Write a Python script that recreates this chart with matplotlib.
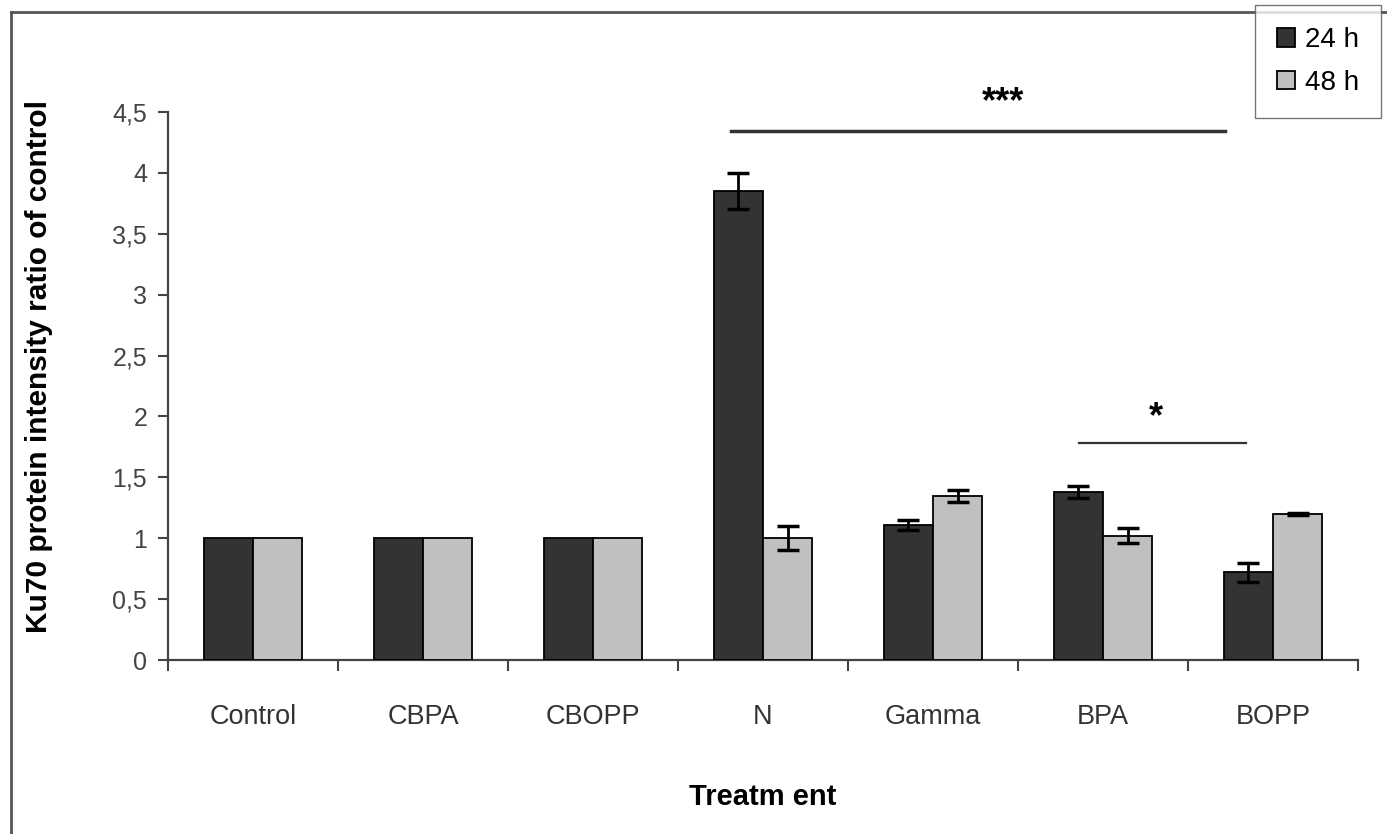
"""
Ku70 protein intensity - grouped bars (24 h / 48 h) with error bars
"""
import numpy as np
import matplotlib
matplotlib.use('Agg')
matplotlib.rcParams['font.family'] = ['Liberation Sans', 'DejaVu Sans']
import matplotlib.pyplot as plt
from matplotlib.lines import Line2D

# ---- data ----
treatments = ['Control', 'CBPA', 'CBOPP', 'N', 'Gamma', 'BPA', 'BOPP']
ratio_24h = [1.0, 1.0, 1.0, 3.85, 1.11, 1.38, 0.72]
err_24h = [0.0, 0.0, 0.0, 0.15, 0.04, 0.05, 0.08]
ratio_48h = [1.0, 1.0, 1.0, 1.0, 1.35, 1.02, 1.2]
err_48h = [0.0, 0.0, 0.0, 0.1, 0.05, 0.06, 0.01]
yticks = [0, 0.5, 1, 1.5, 2, 2.5, 3, 3.5, 4, 4.5]
ytick_labels = ['0', '0,5', '1', '1,5', '2', '2,5', '3', '3,5', '4', '4,5']

# significance bars: (x_start, x_end, y, label, label_x, label_y)
sig_bars = [
    (2.81, 5.72, 4.34, '***', 4.41, 4.58),
    (4.86, 5.84, 1.78, '*', 5.31, 1.99),
]

W, H = 1387, 834
fig = plt.figure(figsize=(W / 100, H / 100), dpi=100)
ax = fig.add_axes([168 / W, 1 - 660 / H, (1358 - 168) / W, (660 - 112) / H])

x = np.arange(len(treatments))
bw = 0.29
dark, light = '#333333', '#c0c0c0'
ax.bar(x - bw / 2, ratio_24h, bw, color=dark, edgecolor='black', lw=1.3, label='24 h', zorder=3)
ax.bar(x + bw / 2, ratio_48h, bw, color=light, edgecolor='black', lw=1.3, label='48 h', zorder=3)

# error bars (skip zero-error controls)
for xs, vals, errs in [(x - bw / 2, ratio_24h, err_24h), (x + bw / 2, ratio_48h, err_48h)]:
    m = np.array(errs) > 0
    ax.errorbar(xs[m], np.array(vals)[m], yerr=np.array(errs)[m], fmt='none',
                ecolor='black', elinewidth=2, capsize=8, capthick=2.5, zorder=4)

for x0, x1, yy, lab, lx, ly in sig_bars:
    ax.plot([x0, x1], [yy, yy], color='#333333', lw=2.5 if lab == '***' else 1.6, clip_on=False)
    ax.text(lx, ly, lab, ha='center', va='center', fontsize=26, fontweight='bold', clip_on=False)

ax.set_xlim(-0.5, len(treatments) - 0.5)
ax.set_ylim(0, 4.5)
ax.set_yticks(yticks)
ax.set_yticklabels(ytick_labels)
ax.set_xticks(np.arange(len(treatments) + 1) - 0.5)
ax.set_xticklabels([])
ax.set_xticks(x, minor=True)
ax.set_xticklabels(treatments, minor=True)
ax.tick_params(axis='x', which='minor', length=0, pad=32, labelsize=19.5, labelcolor='#333333')
ax.tick_params(axis='x', which='major', length=8, width=1.5, color='#444444')
ax.tick_params(axis='y', length=7, width=1.5, color='#444444', labelsize=18,
               labelcolor='#444444', pad=8)

for s in ['top', 'right']:
    ax.spines[s].set_visible(False)
for s in ['left', 'bottom']:
    ax.spines[s].set_color('#444444')
    ax.spines[s].set_linewidth(1.6)

ax.set_xlabel('Treatm ent', fontsize=21, fontweight='bold', labelpad=38)
ax.set_ylabel('Ku70 protein intensity ratio of control', fontsize=21.5, fontweight='bold')
ax.yaxis.set_label_coords(-0.097, 0.535)

fig.legend(loc='lower left', bbox_to_anchor=(1255 / W, 1 - 118 / H), fontsize=20,
           frameon=True, fancybox=False, edgecolor='#555555', handlelength=0.65,
           handleheight=0.65, handletextpad=0.35, labelspacing=0.6, borderpad=0.8,
           borderaxespad=0)

# outer frame (left and top edges)
fig.add_artist(Line2D([11 / W, 11 / W], [0, 1 - 12 / H], transform=fig.transFigure,
                      color='#555555', lw=2))
fig.add_artist(Line2D([11 / W, 1], [1 - 12 / H, 1 - 12 / H], transform=fig.transFigure,
                      color='#555555', lw=2))

fig.savefig('out.png', dpi=100, facecolor='white')
plt.close(fig)
